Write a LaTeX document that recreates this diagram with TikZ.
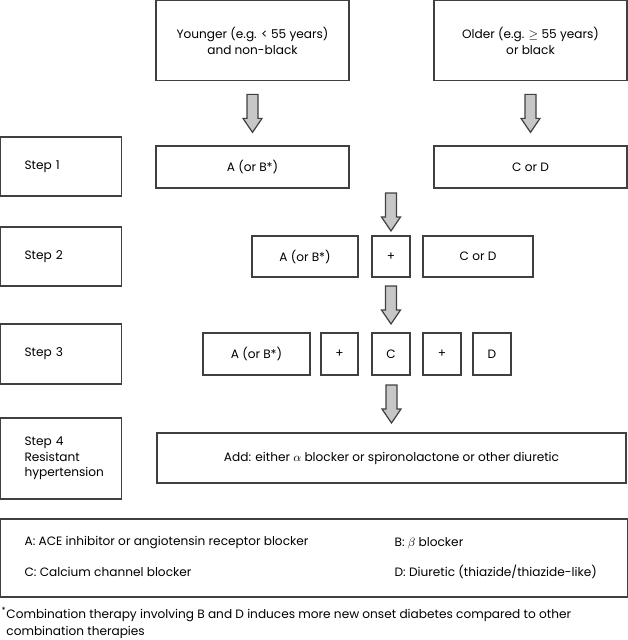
\documentclass[tikz,border=0pt]{standalone}
\usepackage{fontspec}
\setmainfont{Poppins}
\usetikzlibrary{calc}

\tikzset{every picture/.style={line width=0.9pt}}
\tikzset{
  dims/.style 2 args={minimum width=#1*0.75pt, minimum height=#2*0.75pt},
  box/.style={draw=black!75, inner sep=0pt, align=center, font=\fontsize{9.1}{11.6}\selectfont},
  steplbl/.style={box, align=left, inner xsep=18pt, text width=54.75pt},
  legtxt/.style={inner sep=0pt, anchor=west, font=\fontsize{9.1}{12.2}\selectfont},
  fatarrow/.style={draw=black!75, fill=black!22, line width=0.9pt},
}
% block arrow centred in the gap between two nodes, under the target
\newcommand{\fatarrow}[2]{%
  \path ($(#2.north |- #1.south)!0.5!(#2.north)$) coordinate (fa);
  \draw[fatarrow] ($(fa)+(-5.5,-19)$) -- ($(fa)+(-5.5,5)$) -- ($(fa)+(-9.5,5)$) -- ($(fa)+(0,19)$) -- ($(fa)+(9.5,5)$) -- ($(fa)+(5.5,5)$) -- ($(fa)+(5.5,-19)$) -- cycle;}

\begin{document}
\begin{tikzpicture}[x=0.75pt,y=0.75pt,yscale=-1,xscale=1]
\useasboundingbox (0,0) rectangle (628,640);

% patient groups
\node[box, dims={193}{80}] (young) at (252.5,40.75) {Younger (e.g. < 55 years)\\and non-black};
\node[box, dims={193}{80}] (old) at (530.5,40.75) {Older (e.g. $\geq$ 55 years)\\or black};

% step labels
\node[steplbl, dims={121}{59}] (step1) at (61,166.5) {Step 1};
\node[steplbl, dims={121}{59}] (step2) at (61,256.5) {Step 2};
\node[steplbl, dims={121}{60}] (step3) at (61,354) {Step 3};
\node[steplbl, dims={121}{81}] (step4) at (61,458.5) {Step 4\\Resistant\\hypertension};

% step 1
\node[box, dims={193}{42}] (s1a) at (252.5,167) {A (or B*)};
\node[box, dims={193}{42}] (s1cd) at (530.5,167) {C or D};

% step 2
\node[box, dims={106}{41}] (s2a) at (305,256.5) {A (or B*)};
\node[box, dims={38}{41}] (s2plus) at (391,256.5) {+};
\node[box, dims={110}{41}] (s2cd) at (478,256.5) {C or D};

% step 3
\node[box, dims={107}{42}] (s3a) at (256.5,354) {A (or B*)};
\node[box, dims={37}{42}] (s3p1) at (339.5,354) {+};
\node[box, dims={38}{42}] (s3c) at (391,354) {C};
\node[box, dims={38}{42}] (s3p2) at (442,354) {+};
\node[box, dims={38}{42}] (s3d) at (492,354) {D};

% step 4
\node[box, dims={469}{50}] (add) at (391.5,458) {Add: either $\alpha$ blocker or spironolactone or other diuretic};

% arrows
\fatarrow{young}{s1a}
\fatarrow{old}{s1cd}
\fatarrow{s1a}{s2plus}
\fatarrow{s2plus}{s3c}
\fatarrow{s3c}{add}

% legend
\node[box, dims={626.5}{78}] (legend) at (314,558) {};
\node[legtxt] (legA) at (24,543) {A: ACE inhibitor or angiotensin receptor blocker};
\node[legtxt] (legC) at (24,572) {C: Calcium channel blocker};
\node[legtxt] (legB) at (394,543) {B: $\beta$ blocker};
\node[legtxt] (legD) at (394,572) {D: Diuretic (thiazide/thiazide-like)};

% footnote
\node[legtxt, anchor=north west, align=left] (note) at (1,607) {\textsuperscript{*}Combination therapy involving B and D induces more new onset diabetes compared to other\\\phantom{\textsuperscript{*}}combination therapies};
\end{tikzpicture}
\end{document}
